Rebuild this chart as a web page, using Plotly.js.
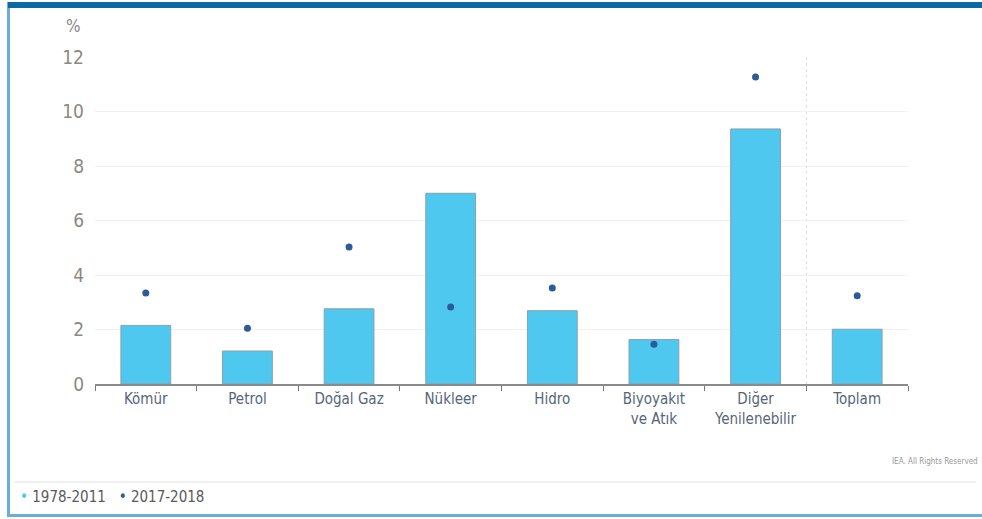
<!DOCTYPE html>
<html>
<head>
<meta charset="utf-8">
<script src="https://cdn.plot.ly/plotly-3.0.1.min.js"></script>
<style>
html,body{margin:0;padding:0;background:#fff;}
#wrap{position:relative;width:982px;height:519px;}
#chart{width:982px;height:519px;}
#frame{position:absolute;left:7px;top:2px;width:975px;height:512px;border-left:3px solid #6aaed6;border-bottom:3px solid #6aaed6;box-sizing:content-box;pointer-events:none;}
#band{position:absolute;left:8px;top:2px;width:974px;height:6px;background:#0b69a3;pointer-events:none;}
</style>
</head>
<body>
<div id="wrap">
<div id="chart"></div>
<div id="frame"></div>
<div id="band"></div>
</div>
<script>
var categories = ["Kömür", "Petrol", "Doğal Gaz", "Nükleer", "Hidro", "Biyoyakıt<br>ve Atık", "Diğer<br>Yenilenebilir", "Toplam"];
var series1Name = "1978-2011";
var series2Name = "2017-2018";
var values1978_2011 = [2.15, 1.21, 2.76, 7.0, 2.69, 1.63, 9.36, 2.01];
var values2017_2018 = [3.34, 2.05, 5.03, 2.83, 3.52, 1.46, 11.27, 3.24];
var yTicks = [0, 2, 4, 6, 8, 10, 12];

var c1 = "#4fc8ef", c2 = "#2b5c99";
var labelFont = "Liberation Sans Narrow, DejaVu Sans Condensed, Arial Narrow, sans-serif";

var traces = [
  {type: "bar", name: series1Name, x: categories, y: values1978_2011,
   marker: {color: c1, line: {color: "#8aa0ad", width: 1}}, width: 0.49, showlegend: false, hoverinfo: "y"},
  {type: "scatter", mode: "markers", name: series2Name, x: categories, y: values2017_2018,
   marker: {color: c2, size: 7}, showlegend: false, hoverinfo: "y"}
];

var layout = {
  width: 982, height: 519,
  margin: {l: 95, r: 74, t: 57, b: 135},
  paper_bgcolor: "#ffffff", plot_bgcolor: "#ffffff",
  font: {family: labelFont},
  xaxis: {
    type: "category", tickson: "boundaries", ticks: "outside", ticklen: 5, tickcolor: "#777",
    showline: true, linecolor: "#8a8a8a", linewidth: 2, showgrid: false,
    tickfont: {family: labelFont, size: 15, color: "#55667a"}, range: [-0.5, 7.5], fixedrange: true
  },
  yaxis: {
    range: [0, 12], tickvals: yTicks, ticktext: yTicks.map(String),
    showgrid: true, gridcolor: "#f0f0f0", gridwidth: 1, zeroline: false, showline: false,
    ticks: "", ticklabelstandoff: 10,
    tickfont: {family: labelFont, size: 19, color: "#8e8882"}, fixedrange: true
  },
  shapes: [
    {type: "line", xref: "x", yref: "paper", x0: 6.5, x1: 6.5, y0: 0, y1: 1,
     line: {color: "#dcdcdc", width: 1, dash: "dot"}, layer: "below"},
    {type: "line", xref: "paper", yref: "paper", x0: -0.099, x1: 1.0836, y0: -0.2997, y1: -0.2997,
     line: {color: "#f0f0f0", width: 2}}
  ],
  annotations: [
    {text: "%", xref: "paper", yref: "paper", x: -0.027, y: 1.094, xanchor: "center", yanchor: "middle",
     showarrow: false, font: {family: labelFont, size: 17, color: "#8e8882"}},
    {text: "IEA. All Rights Reserved", xref: "paper", yref: "paper", x: 1.0885, y: -0.2385,
     xanchor: "right", yanchor: "middle", showarrow: false, font: {family: labelFont, size: 8, color: "#999"}},
    {text: "<span style='color:" + c1 + "'>•</span> " + series1Name + "   <span style='color:" + c2 + "'>•</span> " + series2Name,
     xref: "paper", yref: "paper", x: -0.095, y: -0.3465, xanchor: "left", yanchor: "middle",
     showarrow: false, font: {family: labelFont, size: 15, color: "#5a5a5a"}}
  ]
};

Plotly.newPlot("chart", traces, layout, {displayModeBar: false, staticPlot: true});
</script>
</body>
</html>
